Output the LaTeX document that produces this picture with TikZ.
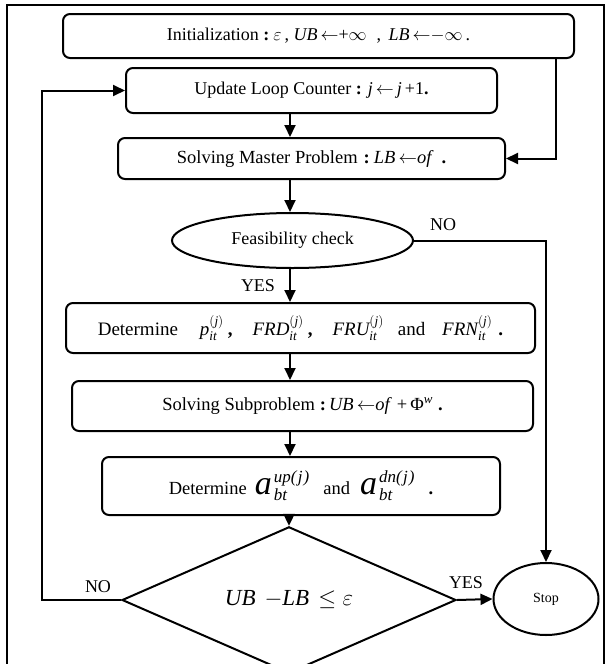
\RequirePackage{fix-cm}
\documentclass[tikz,border=0pt]{standalone}
\usepackage{amsmath}
\usepackage{fontspec}
\setmainfont{Liberation Serif}
\usetikzlibrary{arrows.meta,shapes.geometric,calc}

\newcommand\fs[1]{\fontsize{#1}{#1}\selectfont}
\newcommand\iv[1]{\textit{#1}}
\newcommand\hs[1]{\hspace{#1pt}}
\newcommand\biga[1]{\mbox{\fs{34}\itshape a}\kern2pt\mbox{\fs{17}\itshape\rlap{\raisebox{-6pt}{bt}}\raisebox{12pt}{#1}}}

\begin{document}
\begin{tikzpicture}[x=1pt,y=-1pt,
  line width=2pt,
  box/.style={draw, rounded corners=7pt, inner sep=0pt, align=center, font=\fs{18}},
  oval/.style={draw, ellipse, inner sep=0pt},
  arr/.style={-{Triangle[length=12pt,width=11pt]}},
  lbl/.style={font=\fs{18}, inner sep=0pt}]

\useasboundingbox (0,0) rectangle (608,664);
\draw (7,672) -- (7,5) -- (604,5) -- (604,672);

\node[box, minimum width=511pt, minimum height=44pt, font=\fs{18}] (init) at (318.5,36)
  {Initialization \textbf{:}\hs{4}$\varepsilon$\hs{3}, \iv{UB}\,$\leftarrow$+$\infty$\hs{10}, \hs{3}\iv{LB}\,$\leftarrow$$-\infty$\hs{3}.};
\node[box, minimum width=371pt, minimum height=45pt, font=\fs{18}] (upd) at (311.5,90.5)
  {Update Loop Counter \textbf{:} \iv{j}\,$\leftarrow$\,\iv{j}\,+1\textbf{.}};
\node[box, minimum width=387pt, minimum height=41pt, font=\fs{18.5}] (mast) at (311.5,158.5)
  {Solving Master Problem\hs{6}\textbf{:}\hs{4}\iv{LB}\,$\leftarrow$\iv{of}\hs{8}\textbf{.}};
\node[oval, minimum width=241pt, minimum height=55pt, font=\fs{18}] (feas) at (292.5,240.5)
  {Feasibility check};
\node[box, minimum width=469pt, minimum height=50pt, font=\fs{19}] (detp) at (300.5,328)
  {Determine\hs{22}$\iv{p}^{(\iv{j})}_{\iv{it}}$\hs{4}\textbf{,}\hs{20}$\iv{FRD}^{(\iv{j})}_{\iv{it}}$\hs{4}\textbf{,}\hs{20}$\iv{FRU}^{(\iv{j})}_{\iv{it}}$\hs{14}and\hs{17}$\iv{FRN}^{(\iv{j})}_{\iv{it}}$\hs{6}\textbf{.}};
\node[box, minimum width=461pt, minimum height=50pt, font=\fs{18.5}] (sub) at (302.5,406)
  {Solving Subproblem\hs{5}\textbf{:}\hs{3}\iv{UB}\,$\leftarrow$\iv{of}\hs{5}+\,Φ\textsuperscript{\iv{w}}\hs{5}\textbf{.}};
\node[box, minimum width=398pt, minimum height=58pt, font=\fs{18.5}] (deta) at (301,486)
  {Determine\hs{8}\biga{up(\kern1.5pt j\kern1pt)}\hs{14}and\hs{10}\biga{dn(\kern1.5pt j\kern1pt)}\hs{14}\textbf{.}};
\node[draw, diamond, inner sep=0pt, minimum width=334pt, minimum height=114pt, font=\fs{23}] (dia) at (289,600)
  {\iv{UB}\hs{9}$-$\iv{LB}\hs{9}$\le\varepsilon$};
\node[oval, minimum width=105pt, minimum height=72pt, font=\fs{14}] (stop) at (546,599) {Stop};

\coordinate (ax) at (290,0);
\coordinate (rx) at (556,0);
\coordinate (lx) at (42,0);

\draw[arr] (upd.south -| ax) -- (mast.north -| ax);
\draw[arr] (mast.south -| ax) -- (feas.north -| ax);
\draw[arr] (feas.south -| ax) -- (detp.north -| ax);
\draw[arr] (detp.south -| ax) -- (sub.north -| ax);
\draw[arr] (sub.south -| ax) -- (deta.north -| ax);
\draw[arr] (deta.south -| dia.north) -- (dia.north);
\draw[arr] (init.south -| rx) |- (mast.east);
\draw[arr] (feas.east) -| (stop.north);
\draw[arr] (dia.west) -- (dia.west -| lx) |- (upd.west);
\draw[arr] (dia.east) -- (stop.west);

\node[lbl] (yes1) at (258,286) {YES};
\node[lbl] (no1) at (443,225) {NO};
\node[lbl] (no2) at (98,587) {NO};
\node[lbl] (yes2) at (466,583) {YES};
\end{tikzpicture}
\end{document}
